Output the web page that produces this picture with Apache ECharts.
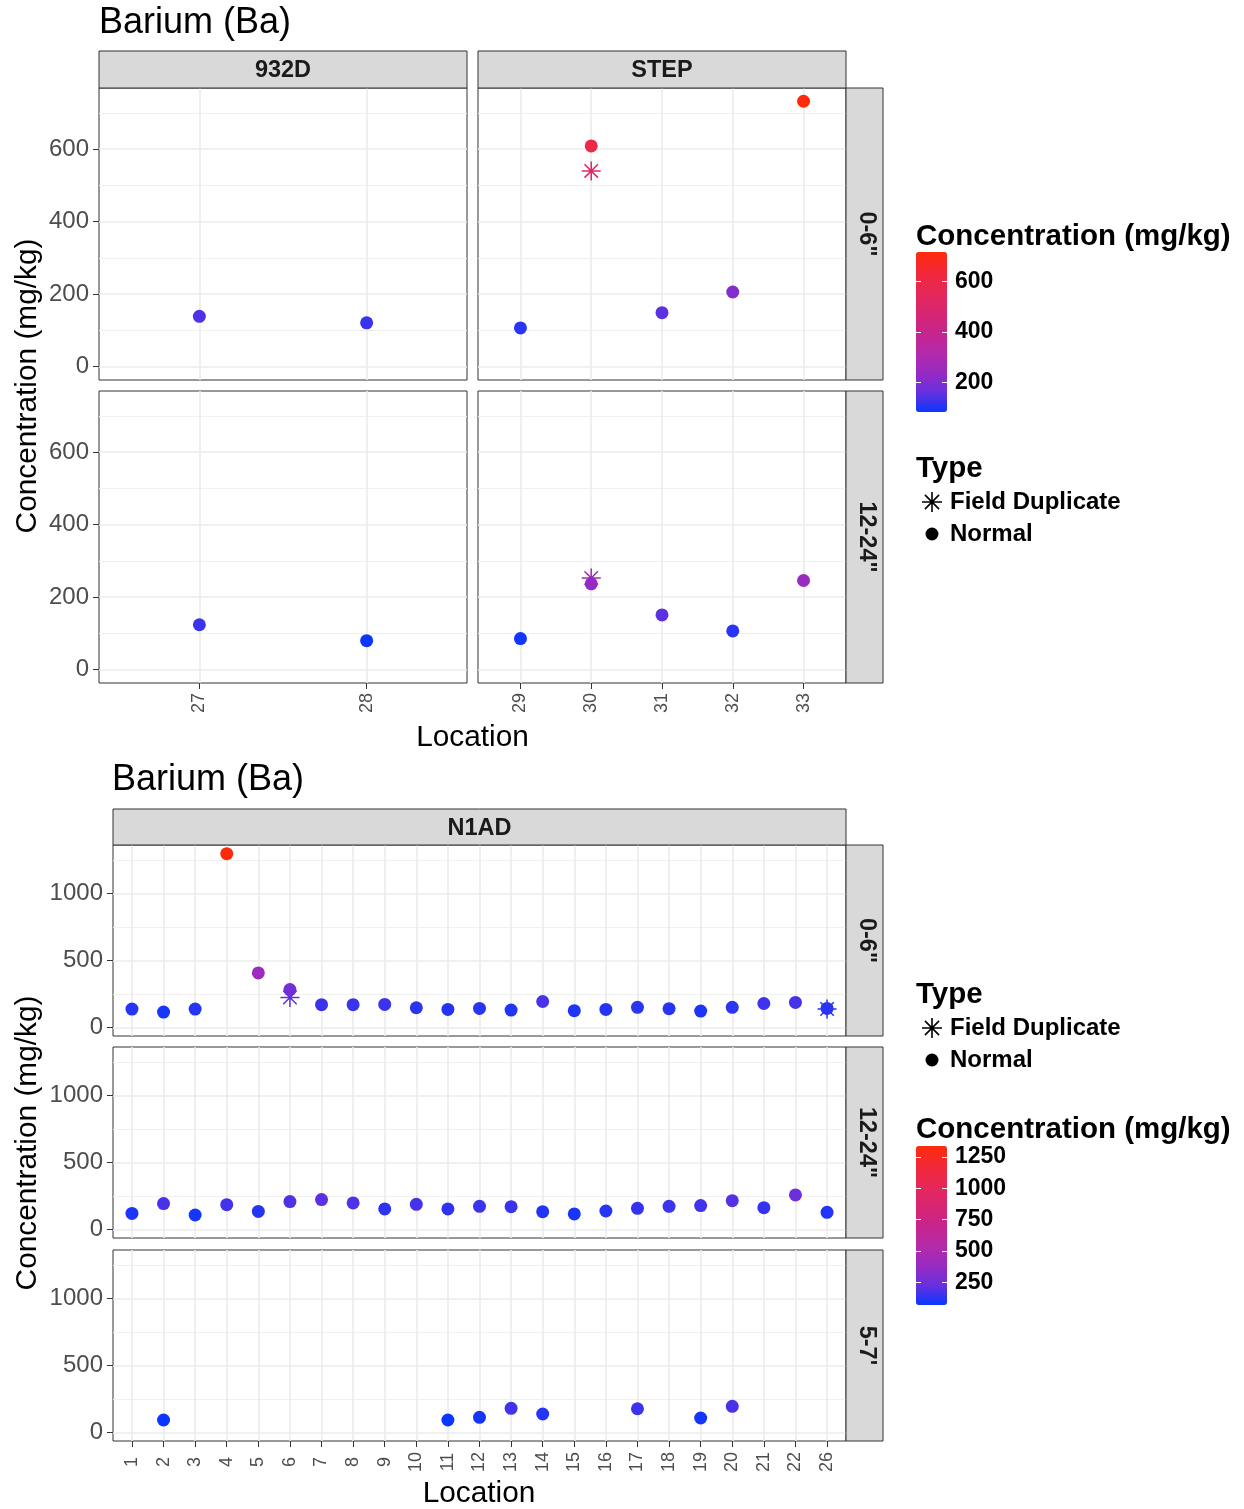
<!DOCTYPE html>
<html><head><meta charset="utf-8">
<script src="https://cdn.jsdelivr.net/npm/echarts@6/dist/echarts.min.js"></script>
<style>html,body{margin:0;padding:0;background:#fff}#chart{width:1244px;height:1509px}</style>
</head><body><div id="chart"></div>
<script>
// ---------------- data ----------------
const chartTitle = 'Barium (Ba)';
const yTitle = 'Concentration (mg/kg)';
const xTitle = 'Location';
const colorTitle = 'Concentration (mg/kg)';
const typeTitle = 'Type';
const typeNames = ['Field Duplicate', 'Normal'];

// top figure: sites 932D and STEP
const topSites = ['932D', 'STEP'];
const topDepths = ['0-6"', '12-24"'];
const loc932D = ['27', '28'];
const locSTEP = ['29', '30', '31', '32', '33'];
const ba932D_0_6 = [139, 121];
const ba932D_12_24 = [124, 80];
const baSTEP_0_6 = [107, 609, 149, 206, 732];
const baSTEP_12_24 = [86, 237, 151, 107, 246];
const dupSTEP_0_6_loc = ['30'];
const dupSTEP_0_6 = [540];
const dupSTEP_12_24_loc = ['30'];
const dupSTEP_12_24 = [253];
const topYTicks = [0, 200, 400, 600];
const topYMinor = [100, 300, 500, 700];
const topBarTicks = [200, 400, 600];
const topBarRange = [84, 716];

// bottom figure: site N1AD
const bottomSite = 'N1AD';
const bottomDepths = ['0-6"', '12-24"', "5-7'"];
const locN1AD = ['1','2','3','4','5','6','7','8','9','10','11','12','13','14','15','16','17','18','19','20','21','22','26'];
const baN1AD_0_6 = [136,114,136,1297,406,282,169,169,171,146,134,141,129,193,124,134,149,139,121,149,178,186,141];
const baN1AD_12_24 = [119,192,107,184,134,207,222,197,152,187,152,172,169,132,115,137,157,172,177,214,162,257,127];
const baN1AD_5_7 = [null,92,null,null,null,null,null,null,null,null,92,112,179,137,null,null,176,null,107,194,null,null,null];
const dupN1AD_0_6_loc = ['6', '26'];
const dupN1AD_0_6 = [223, 137];
const bottomYTicks = [0, 500, 1000];
const bottomYMinor = [250, 750, 1250];
const bottomBarTicks = [250, 500, 750, 1000, 1250];
const bottomBarRange = [71, 1337];

const gradientColors = ['#0A36FF','#6830DE','#9A2AC2','#B42AA8','#C8248C','#D82670','#E62858','#F22838','#FF2A0A'];

// ---------------- helpers ----------------
const FONT = '"Liberation Sans", Arial, Helvetica, sans-serif';
const ASTERISK = 'path://M0 9.2L20 9.2L20 10.8L0 10.8Z M9.2 0L10.8 0L10.8 20L9.2 20Z M2.363 3.495L3.495 2.363L17.637 16.505L16.505 17.637Z M3.495 17.637L2.363 16.505L16.505 2.363L17.637 3.495Z';
const DOT = 'path://M0 0L0 0Z M20 20L20 20Z M16.5 10A6.5 6.5 0 1 1 3.5 10A6.5 6.5 0 1 1 16.5 10Z';
const plain = v => String(v);

const grids = [], xAxes = [], yAxes = [], series = [], graphics = [];

function limitsOf(arrs) {
  const all = [].concat(...arrs).filter(v => v != null);
  const hi = Math.max(...all), lo = Math.min(0, ...all);
  const pad = 0.05 * (hi - lo);
  return [lo - pad, hi + pad];
}
function rangeOf(arrs) {
  const all = [].concat(...arrs).filter(v => v != null);
  return [Math.min(...all), Math.max(...all)];
}

function addPanel(p) {
  const gi = grids.length;
  grids.push({left: p.left, top: p.top, width: p.width, height: p.height, show: true,
    backgroundColor: '#FFFFFF', borderColor: '#333333', borderWidth: 1, containLabel: false, outerBoundsMode: 'none'});
  const idx = p.cats.map((c, i) => i);
  xAxes.push({gridIndex: gi, type: 'value', position: 'bottom', min: -0.6, max: p.cats.length - 0.4,
    axisLine: {show: false, onZero: false},
    axisTick: {show: p.showX, customValues: idx, length: 6, lineStyle: {color: '#333333', width: 1}},
    axisLabel: {show: p.showX, customValues: idx, formatter: v => p.cats[Math.round(v)], rotate: 90,
      align: 'center', verticalAlign: 'middle', margin: p.xMargin, fontSize: 18, color: '#4D4D4D', fontFamily: FONT},
    splitLine: {show: true, lineStyle: {color: '#EBEBEB', width: 1.6}}
  });
  const yi = yAxes.length;
  yAxes.push({gridIndex: gi, type: 'value', position: 'left', min: p.yLim[0], max: p.yLim[1],
    axisLine: {show: false, onZero: false},
    axisTick: {show: p.showY, customValues: p.yTicks, length: 6, lineStyle: {color: '#333333', width: 1}},
    axisLabel: {show: p.showY, customValues: p.yTicks, formatter: plain, fontSize: 24, color: '#4D4D4D', margin: 10,
      padding: [3, 0, 0, 0], fontFamily: FONT},
    splitLine: {show: true, lineStyle: {color: '#EBEBEB', width: 1.6}}
  });
  yAxes.push({gridIndex: gi, type: 'value', position: 'left', min: p.yLim[0], max: p.yLim[1],
    axisLine: {show: false, onZero: false},
    axisTick: {show: false, customValues: p.yMinor},
    axisLabel: {show: false, customValues: p.yMinor},
    splitLine: {show: true, lineStyle: {color: '#F0F0F0', width: 1}}
  });
  const out = [];
  if (p.dupVals && p.dupVals.length) {
    out.push(series.length);
    series.push({type: 'scatter', name: typeNames[0], xAxisIndex: gi, yAxisIndex: yi, symbol: ASTERISK,
      symbolSize: 19, silent: true, itemStyle: {opacity: 1},
      data: p.dupLoc.map((l, k) => [p.cats.indexOf(l), p.dupVals[k]])});
  }
  out.push(series.length);
  series.push({type: 'scatter', name: typeNames[1], xAxisIndex: gi, yAxisIndex: yi, symbol: 'circle',
    symbolSize: 13, silent: true, itemStyle: {opacity: 1},
    data: p.vals.map((v, i) => v == null ? null : [i, v]).filter(d => d)});
  return out;
}

function addColorbarAxis(left, top, width, height, range, ticks) {
  const gi = grids.length;
  grids.push({left, top, width, height, show: false, containLabel: false, outerBoundsMode: 'none'});
  xAxes.push({gridIndex: gi, type: 'value', show: false, min: 0, max: 1});
  yAxes.push({gridIndex: gi, type: 'value', position: 'left', min: range[0], max: range[1], z: 10,
    axisLine: {show: false, onZero: false},
    axisTick: {show: true, inside: true, customValues: ticks, length: 5, lineStyle: {color: '#FFFFFF', width: 1}},
    axisLabel: {show: false, customValues: ticks}, splitLine: {show: false}});
  yAxes.push({gridIndex: gi, type: 'value', position: 'right', min: range[0], max: range[1], z: 10,
    axisLine: {show: false, onZero: false},
    axisTick: {show: true, inside: true, customValues: ticks, length: 5, lineStyle: {color: '#FFFFFF', width: 1}},
    axisLabel: {show: true, customValues: ticks, formatter: plain, margin: 8, fontSize: 23, fontWeight: 'bold',
      color: '#000000', padding: [4, 0, 0, 0], fontFamily: FONT},
    splitLine: {show: false}});
}

function txt(x, y, text, size, opts) {
  opts = opts || {};
  graphics.push({type: 'text', x, y, rotation: opts.rot || 0, z: 20, silent: true,
    style: {text, fontSize: size, fontFamily: FONT, fontWeight: opts.bold ? 'bold' : 'normal',
      fill: opts.color || '#000000', align: opts.align || 'left', verticalAlign: 'middle'}});
}
function stripRect(x, y, w, h) {
  graphics.push({type: 'rect', z: 15, silent: true, shape: {x, y, width: w, height: h},
    style: {fill: '#D9D9D9', stroke: '#333333', lineWidth: 1}});
}

// ---------------- top figure ----------------
const topLim = limitsOf([ba932D_0_6, ba932D_12_24, baSTEP_0_6, baSTEP_12_24, dupSTEP_0_6, dupSTEP_12_24]);
const topRange = rangeOf([ba932D_0_6, ba932D_12_24, baSTEP_0_6, baSTEP_12_24, dupSTEP_0_6, dupSTEP_12_24]);
const TL = [99, 478], TW = 368, TT = [88, 391], TH = 292;
const topPanels = [
  {cats: loc932D, vals: ba932D_0_6, dupLoc: [], dupVals: [], col: 0, row: 0},
  {cats: locSTEP, vals: baSTEP_0_6, dupLoc: dupSTEP_0_6_loc, dupVals: dupSTEP_0_6, col: 1, row: 0},
  {cats: loc932D, vals: ba932D_12_24, dupLoc: [], dupVals: [], col: 0, row: 1},
  {cats: locSTEP, vals: baSTEP_12_24, dupLoc: dupSTEP_12_24_loc, dupVals: dupSTEP_12_24, col: 1, row: 1}
];
let topSeries = [];
topPanels.forEach(p => {
  topSeries = topSeries.concat(addPanel(Object.assign(p, {
    left: TL[p.col], top: TT[p.row], width: TW, height: TH, yLim: topLim, yTicks: topYTicks, yMinor: topYMinor,
    showX: p.row === 1, showY: p.col === 0, xMargin: 20})));
});
txt(99, 23, chartTitle, 36);
topSites.forEach((s, i) => { stripRect(TL[i], 51, TW, 37); txt(TL[i] + TW / 2, 71, s, 23.5, {bold: true, align: 'center', color: '#1A1A1A'}); });
topDepths.forEach((d, i) => { stripRect(846, TT[i], 37, TH); txt(866, TT[i] + TH / 2, d, 23.5, {bold: true, align: 'center', rot: -Math.PI / 2, color: '#1A1A1A'}); });
txt(28, 386, yTitle, 29.8, {align: 'center', rot: Math.PI / 2});
txt(472.5, 738, xTitle, 29.8, {align: 'center'});
txt(916, 237, colorTitle, 29.5, {bold: true});
txt(916, 469, typeTitle, 29.5, {bold: true});
addColorbarAxis(916, 252, 31, 160, topBarRange, topBarTicks);

// ---------------- bottom figure ----------------
const botLim = limitsOf([baN1AD_0_6, baN1AD_12_24, baN1AD_5_7, dupN1AD_0_6]);
const botRange = rangeOf([baN1AD_0_6, baN1AD_12_24, baN1AD_5_7, dupN1AD_0_6]);
const BL = 113, BW = 733, BT = [845, 1047, 1250], BH = 191;
const botPanels = [
  {vals: baN1AD_0_6, dupLoc: dupN1AD_0_6_loc, dupVals: dupN1AD_0_6},
  {vals: baN1AD_12_24, dupLoc: [], dupVals: []},
  {vals: baN1AD_5_7, dupLoc: [], dupVals: []}
];
let botSeries = [];
botPanels.forEach((p, r) => {
  botSeries = botSeries.concat(addPanel(Object.assign(p, {
    cats: locN1AD, left: BL, top: BT[r], width: BW, height: BH, yLim: botLim, yTicks: bottomYTicks, yMinor: bottomYMinor,
    showX: r === 2, showY: true, xMargin: 21})));
});
txt(112, 780, chartTitle, 36);
stripRect(BL, 809, BW, 36); txt(BL + BW / 2, 829, bottomSite, 23.5, {bold: true, align: 'center', color: '#1A1A1A'});
bottomDepths.forEach((d, i) => { stripRect(846, BT[i], 37, BH); txt(866, BT[i] + BH / 2, d, 23.5, {bold: true, align: 'center', rot: -Math.PI / 2, color: '#1A1A1A'}); });
txt(28, 1143, yTitle, 29.8, {align: 'center', rot: Math.PI / 2});
txt(479, 1494, xTitle, 29.8, {align: 'center'});
txt(916, 995, typeTitle, 29.5, {bold: true});
txt(916, 1130, colorTitle, 29.5, {bold: true});
addColorbarAxis(916, 1146, 31, 159, bottomBarRange, bottomBarTicks);

// ---------------- legends / visual maps ----------------
function typeLegend(top) {
  return {orient: 'vertical', left: 922, top, padding: 0, itemGap: 8, itemWidth: 26, itemHeight: 20,
    selectedMode: false, textStyle: {fontSize: 24, fontWeight: 'bold', color: '#000000', fontFamily: FONT},
    data: [{name: typeNames[0], icon: ASTERISK, itemStyle: {color: '#000000'}},
           {name: typeNames[1], icon: DOT, itemStyle: {color: '#000000'}}]};
}
function colorMap(range, seriesIndex, top, height) {
  return {type: 'continuous', min: range[0], max: range[1], seriesIndex, dimension: 1,
    show: true, left: 916, top, itemWidth: 31, itemHeight: height, padding: 0,
    calculable: false, hoverLink: false, inRange: {color: gradientColors}};
}

const option = {
  animation: false,
  backgroundColor: '#FFFFFF',
  grid: grids, xAxis: xAxes, yAxis: yAxes, series,
  legend: [typeLegend(490), typeLegend(1016)],
  visualMap: [colorMap(topRange, topSeries, 252, 160), colorMap(botRange, botSeries, 1146, 159)],
  graphic: graphics
};
const chart = echarts.init(document.getElementById('chart'), null, {renderer: 'canvas'});
chart.setOption(option);
</script></body></html>
